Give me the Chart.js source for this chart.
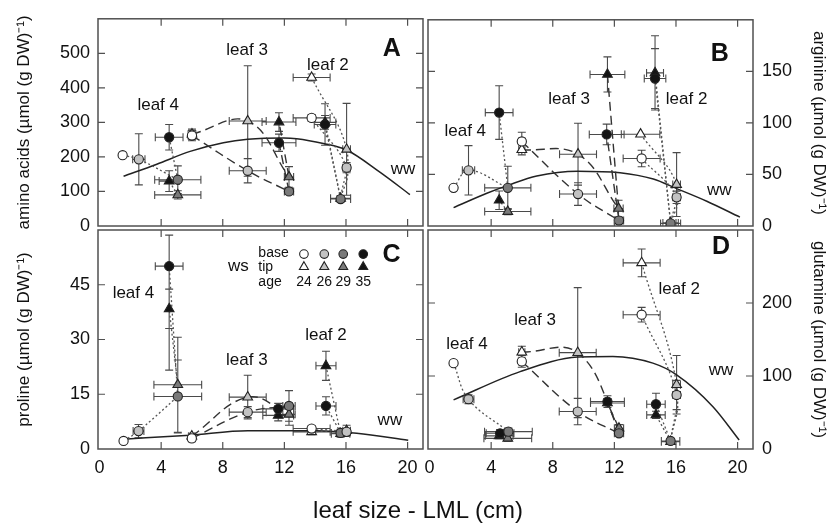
<!DOCTYPE html>
<html><head><meta charset="utf-8">
<script src="https://cdn.jsdelivr.net/npm/chart.js@4.4.1/dist/chart.umd.min.js"></script>
<style>
html,body{margin:0;padding:0;background:#fff;}
#wrap{position:relative;width:830px;height:529px;overflow:hidden;background:#fff;}
#wrap canvas{position:absolute;left:0;top:0;}
#xt{position:absolute;left:418px;top:496px;transform:translateX(-50%);font:24px 'Liberation Sans',Arial,sans-serif;color:#111;white-space:nowrap;line-height:28px;}
</style></head><body>
<div id="wrap">
<canvas id="cA" width="830" height="529"></canvas>
<canvas id="cB" width="830" height="529"></canvas>
<canvas id="cC" width="830" height="529"></canvas>
<canvas id="cD" width="830" height="529"></canvas>
<div id="xt">leaf size - LML (cm)</div>
</div>
<script>
// ---------------- DATA ----------------
// each row: [leaf size x, value y, x error, y error (down), y error up (optional)]; rows ordered leaf 4, leaf 3, leaf 2
const AGES = [24, 26, 29, 35];
const LEAVES = ['leaf 4', 'leaf 3', 'leaf 2'];
const X_TICKS = [0, 4, 8, 12, 16, 20];

// Panel A: amino acids
const A_Y_TICKS = [0, 100, 200, 300, 400, 500];
const A_base24 = [[1.5,205], [6.0,262,0.25,15], [13.77,313,1.2,10]];
const A_base26 = [[2.55,193,0.4,74], [9.62,160,1.2,35], [16.04,169,0.25,15]];
const A_base29 = [[5.08,134,1.5,40], [12.3,100,0.3,8], [15.65,78,0.65,8]];
const A_base35 = [[4.52,257,0.9,37], [11.65,241,1.1,25], [14.64,294,0.7,60]];
const A_tip24  = [null, [6.0,266,0.25,15], [13.77,430,1.2,10]];
const A_tip26  = [null, [9.62,304,1.2,160], [16.04,222,0.25,133]];
const A_tip29  = [[5.08,90,1.5,12], [12.3,142,0.3,30], [15.65,80,0.65,8]];
const A_tip35  = [[4.52,130,0.65,30], [11.65,301,1.1,27], [14.64,300,0.7,20]];
const A_ww = [[1.56,144],[3.72,179],[5.88,216],[8.04,241],[9.62,251],[11.94,255],[12.8,253],[14.53,239],[16.04,220],[18.2,156],[20.15,91]];

// Panel B: arginine
const B_Y_TICKS = [0, 50, 100, 150];
const B_base24 = [[1.56,37], [5.99,82,0.2,9], [13.77,65.5,1.2,8]];
const B_base26 = [[2.53,54,0.4,24], [9.64,31,1.2,11], [16.04,27.8,0.25,6]];
const B_base29 = [[5.08,37,1.5,21], [12.3,5.3,0.3,3], [15.65,2.5,0.65,2]];
const B_base35 = [[4.52,110,0.9,26], [11.5,88.8,1.13,10], [14.64,143,0.7,29]];
const B_tip24  = [null, [5.99,74,0.2,5], [13.7,89,1.25,0]];
const B_tip26  = [null, [9.64,69.6,1.2,30], [16.04,40.2,0.25,31]];
const B_tip29  = [[5.08,14,1.5,3], [12.27,17,0.3,8], [15.65,3,0.5,2]];
const B_tip35  = [[4.52,25,0,9], [11.55,147,1.13,17], [14.64,148.5,0.55,36]];
const B_ww = [[1.56,17.8],[3.72,31.7],[5.08,39.4],[6.96,48.6],[9.62,53.2],[12.37,51.7],[14.53,45.5],[16.04,36.3],[18.0,24],[20.15,8.6]];

// Panel C: proline
const C_Y_TICKS = [0, 15, 30, 45];
const C_base24 = [[1.56,2.2], [5.99,2.9,0.2,0.8], [13.77,5.6,1.2,0.8]];
const C_base26 = [[2.53,4.9,0.35,1.8], [9.62,10.1,1.2,1.5], [16.04,4.7,0.25,1]];
const C_base29 = [[5.08,14.4,1.55,10], [12.3,11.8,0.4,4.2], [15.65,4.4,0.6,1]];
const C_base35 = [[4.52,50.1,0.9,28.5,8.5], [11.6,11.0,1.0,1.5], [14.7,11.8,0.65,2.5]];
const C_tip24  = [null, [5.99,3.5,0.2,0.8], [13.77,4.7,1.2,0.8]];
const C_tip26  = [null, [9.62,14.2,1.2,6], [16.04,5.0,0.25,1.5]];
const C_tip29  = [[5.08,17.6,1.55,13], [12.3,9.5,0.4,3], [15.65,4.2,0.6,1]];
const C_tip35  = [[4.52,38.4,0,5.4], [11.6,9.2,1.0,1.5], [14.7,22.8,0.65,4]];
const C_ww = [[1.56,2.7],[5.88,3.8],[9.62,5.0],[14.1,5.0],[16.7,4.3],[20.04,2.4]];

// Panel D: glutamine
const D_Y_TICKS = [0, 100, 200];
const D_base24 = [[1.56,117.6], [5.99,120,0.2,8], [13.77,184,1.2,10]];
const D_base26 = [[2.53,68.2,0.35,6], [9.62,51.3,1.2,18], [16.04,74,0.25,20]];
const D_base29 = [[5.12,23.8,1.55,5], [12.3,21.5,0.3,3], [15.65,11,0.6,3]];
const D_base35 = [[4.58,21.5,0.9,5], [11.55,65,1.1,8], [14.7,61.3,0.6,15]];
const D_tip24  = [null, [5.99,132.7,0.2,8], [13.77,255,1.2,19]];
const D_tip26  = [null, [9.62,132,1.2,89], [16.04,88,0.25,40]];
const D_tip29  = [[5.08,14.6,1.55,4], [12.3,28.4,0.3,5], [15.65,10,0.6,3]];
const D_tip35  = [[4.52,18,0.9,4], [11.55,63,1.1,6], [14.7,46.7,0.6,5]];
const D_ww = [[1.56,67.3],[5.88,106],[9.62,125.9],[11.9,126.8],[14.5,117.6],[16.04,101.6],[18.4,58],[20.1,12.4]];

// ---------------- STYLE / LAYOUT ----------------
const FONT = "'Liberation Sans', Arial, sans-serif";
Chart.defaults.font.family = FONT;
const FILLS = ['#ffffff', '#c2c2c2', '#7a7a7a', '#141414'];
const W = 830, H = 529;

const PANELS = [
  { id:'cA', base:[A_base24,A_base26,A_base29,A_base35], tip:[A_tip24,A_tip26,A_tip29,A_tip35], ww:A_ww,
    yMax:600, yTicks:A_Y_TICKS, title:'amino acids (µmol (g DW)⁻¹)', side:'left', xLabels:false,
    area:{l:98,r:423,t:10,b:226}, letter:['A',18.98,511],
    notes:[['leaf 4',3.81,350],['leaf 3',9.58,508],['leaf 2',14.82,464],['ww',19.7,164]] },
  { id:'cB', base:[B_base24,B_base26,B_base29,B_base35], tip:[B_tip24,B_tip26,B_tip29,B_tip35], ww:B_ww,
    yMax:200, yTicks:B_Y_TICKS, title:'arginine (µmol (g DW)⁻¹)', side:'right', xLabels:false,
    area:{l:428,r:753,t:10,b:226}, letter:['B',18.85,167],
    notes:[['leaf 4',2.32,91.8],['leaf 3',9.06,122.7],['leaf 2',16.69,122.7],['ww',18.81,35]] },
  { id:'cC', base:[C_base24,C_base26,C_base29,C_base35], tip:[C_tip24,C_tip26,C_tip29,C_tip35], ww:C_ww,
    yMax:60, yTicks:C_Y_TICKS, title:'proline (µmol (g DW)⁻¹)', side:'left', xLabels:true,
    area:{l:98,r:423,t:230,b:449}, letter:['C',18.96,53.2], legend:true,
    notes:[['leaf 4',2.2,42.7],['leaf 3',9.56,24.2],['leaf 2',14.7,31.2],['ww',18.85,7.9]] },
  { id:'cD', base:[D_base24,D_base26,D_base29,D_base35], tip:[D_tip24,D_tip26,D_tip29,D_tip35], ww:D_ww,
    yMax:300, yTicks:D_Y_TICKS, title:'glutamine (µmol (g DW)⁻¹)', side:'right', xLabels:true,
    area:{l:428,r:753,t:230,b:449}, letter:['D',18.92,277],
    notes:[['leaf 4',2.43,144],['leaf 3',6.85,176],['leaf 2',16.21,219],['ww',18.92,108]] }
];

const toXY = r => ({x:r[0], y:r[1]});
const toPt = r => ({x:r[0], y:r[1], xe:r[2]||0, yLo:r[3]||0, yHi:(r[4]!=null ? r[4] : (r[3]||0))});

function buildDatasets(P) {
  const ds = [];
  ds.push({ data:P.ww.map(([x,y])=>({x,y})), showLine:true, pointRadius:0, borderColor:'#222', borderWidth:1.5,
            cubicInterpolationMode:'monotone', order:6 });
  ['base','tip'].forEach(pos => {
    const S = P[pos];
    for (let L = 0; L < 3; L++) {
      const st = L === 1 ? {borderDash:[9,5], borderColor:'#333', borderWidth:1.4}
                         : {borderDash:[2,2.5], borderColor:'#555', borderWidth:1.3};
      const chain = [0,1,2].map(i => S[i][L]).filter(Boolean).map(toXY);
      if (chain.length > 1) ds.push(Object.assign({data:chain, showLine:true, pointRadius:0, tension:0.4, order:4}, st));
      if (S[2][L] && S[3][L]) ds.push(Object.assign({data:[toXY(S[2][L]), toXY(S[3][L])], showLine:true, pointRadius:0, tension:0, order:4}, st));
    }
  });
  ['base','tip'].forEach(pos => {
    P[pos].forEach((rows, i) => {
      ds.push({ label: pos + ' ' + AGES[i], data: rows.filter(Boolean).map(toPt), err:true, showLine:false,
        pointStyle: pos === 'base' ? 'circle' : 'triangle', pointRadius: pos === 'base' ? 4.6 : 5.6,
        pointBackgroundColor: FILLS[i], pointBorderColor:'#222', pointBorderWidth:1.1, order: 1 });
    });
  });
  return ds;
}

const errBars = {
  id:'errBars',
  beforeDatasetsDraw(chart) {
    const {ctx, chartArea:a, scales:{x, y}} = chart;
    const cap = 4;
    ctx.save();
    ctx.beginPath(); ctx.rect(a.left, a.top, a.right - a.left, a.bottom - a.top); ctx.clip();
    ctx.strokeStyle = '#4a4a4a'; ctx.lineWidth = 1.1; ctx.setLineDash([]);
    ctx.beginPath();
    chart.data.datasets.forEach(ds => {
      if (!ds.err) return;
      ds.data.forEach(p => {
        const px = x.getPixelForValue(p.x), py = y.getPixelForValue(p.y);
        if (p.xe) {
          const l = x.getPixelForValue(p.x - p.xe), r = x.getPixelForValue(p.x + p.xe);
          ctx.moveTo(l, py); ctx.lineTo(r, py);
          ctx.moveTo(l, py - cap); ctx.lineTo(l, py + cap);
          ctx.moveTo(r, py - cap); ctx.lineTo(r, py + cap);
        }
        if (p.yLo || p.yHi) {
          const lo = y.getPixelForValue(p.y - p.yLo), hi = y.getPixelForValue(p.y + p.yHi);
          ctx.moveTo(px, lo); ctx.lineTo(px, hi);
          if (p.yLo) { ctx.moveTo(px - cap, lo); ctx.lineTo(px + cap, lo); }
          if (p.yHi) { ctx.moveTo(px - cap, hi); ctx.lineTo(px + cap, hi); }
        }
      });
    });
    ctx.stroke();
    ctx.restore();
  }
};

function framePlugin(P) {
  return { id:'frame', afterDraw(chart) {
    const {ctx, chartArea:a, scales:{x, y}} = chart;
    const T = 7;
    ctx.save();
    ctx.setLineDash([]);
    ctx.strokeStyle = '#505050'; ctx.lineWidth = 1.5;
    ctx.strokeRect(a.left, a.top, a.right - a.left, a.bottom - a.top);
    ctx.lineWidth = 1.2; ctx.beginPath();
    X_TICKS.forEach(v => { const p = x.getPixelForValue(v); if (p < a.left + 3 || p > a.right - 3) return;
      ctx.moveTo(p, a.bottom); ctx.lineTo(p, a.bottom - T); ctx.moveTo(p, a.top); ctx.lineTo(p, a.top + T); });
    P.yTicks.forEach(v => { const p = y.getPixelForValue(v); if (p < a.top + 3 || p > a.bottom - 3) return;
      ctx.moveTo(a.left, p); ctx.lineTo(a.left + T, p); ctx.moveTo(a.right, p); ctx.lineTo(a.right - T, p); });
    ctx.stroke();
    ctx.restore();
  }};
}

function notesPlugin(P) {
  return { id:'notes', afterDatasetsDraw(chart) {
    const {ctx, scales:{x, y}} = chart;
    ctx.save();
    ctx.fillStyle = '#111'; ctx.textAlign = 'center'; ctx.textBaseline = 'middle';
    ctx.font = '17px ' + FONT;
    P.notes.forEach(([t, vx, vy]) => ctx.fillText(t, x.getPixelForValue(vx), y.getPixelForValue(vy)));
    ctx.font = 'bold 25px ' + FONT;
    ctx.fillText(P.letter[0], x.getPixelForValue(P.letter[1]), y.getPixelForValue(P.letter[2]));
    if (P.legend) {
      ctx.font = '17px ' + FONT;
      ctx.fillText('ws', x.getPixelForValue(9.01), y.getPixelForValue(50.0));
      ctx.font = '14px ' + FONT; ctx.textAlign = 'left';
      ctx.fillText('base', x.getPixelForValue(10.31), y.getPixelForValue(53.6));
      ctx.fillText('tip', x.getPixelForValue(10.31), y.getPixelForValue(49.9));
      ctx.fillText('age', x.getPixelForValue(10.31), y.getPixelForValue(45.8));
      ctx.textAlign = 'center';
      const cols = [13.27, 14.59, 15.82, 17.12];
      cols.forEach((cx, i) => {
        const px = x.getPixelForValue(cx);
        ctx.fillStyle = FILLS[i]; ctx.strokeStyle = '#222'; ctx.lineWidth = 1.1;
        Chart.helpers.drawPoint(ctx, {pointStyle:'circle', radius:4.3, rotation:0, borderWidth:1.1}, px, y.getPixelForValue(53.4));
        Chart.helpers.drawPoint(ctx, {pointStyle:'triangle', radius:5.2, rotation:0, borderWidth:1.1}, px, y.getPixelForValue(49.9));
        ctx.fillStyle = '#111';
        ctx.fillText(String(AGES[i]), px, y.getPixelForValue(45.8));
      });
    }
    ctx.restore();
  }};
}

PANELS.forEach(P => {
  const a = P.area;
  const left = P.side === 'left';
  const yW = left ? a.l : W - a.r;
  const xH = P.xLabels ? 40 : 0;
  const pad = {
    left: left ? 0 : a.l,
    right: left ? W - a.r : 0,
    top: a.t,
    bottom: H - a.b - xH
  };
  new Chart(document.getElementById(P.id), {
    type:'scatter',
    data:{ datasets: buildDatasets(P) },
    options:{
      responsive:false, animation:false, devicePixelRatio:1,
      layout:{ padding: pad },
      plugins:{ legend:{display:false}, tooltip:{enabled:false} },
      scales:{
        x:{ type:'linear', min:-0.1, max:21, display:P.xLabels,
            afterBuildTicks: s => { s.ticks = X_TICKS.map(v => ({value:v})); },
            afterFit: s => { s.height = xH; },
            grid:{display:false, drawTicks:false}, border:{display:false},
            ticks:{ font:{size:18}, color:'#111', padding:8, autoSkip:false, maxRotation:0 } },
        y:{ type:'linear', position:P.side, min:0, max:P.yMax,
            afterBuildTicks: s => { s.ticks = P.yTicks.map(v => ({value:v})); },
            afterFit: s => { s.width = yW; },
            grid:{display:false, drawTicks:false}, border:{display:false},
            ticks:{ font:{size:18}, color:'#111', padding: left ? 8 : 9, autoSkip:false },
            title:{ display:true, text:P.title, color:'#111', font:{size:17},
                    padding:{ top: left ? 14 : 1, bottom:0 } } }
      }
    },
    plugins:[errBars, framePlugin(P), notesPlugin(P)]
  });
});
</script>
</body></html>
